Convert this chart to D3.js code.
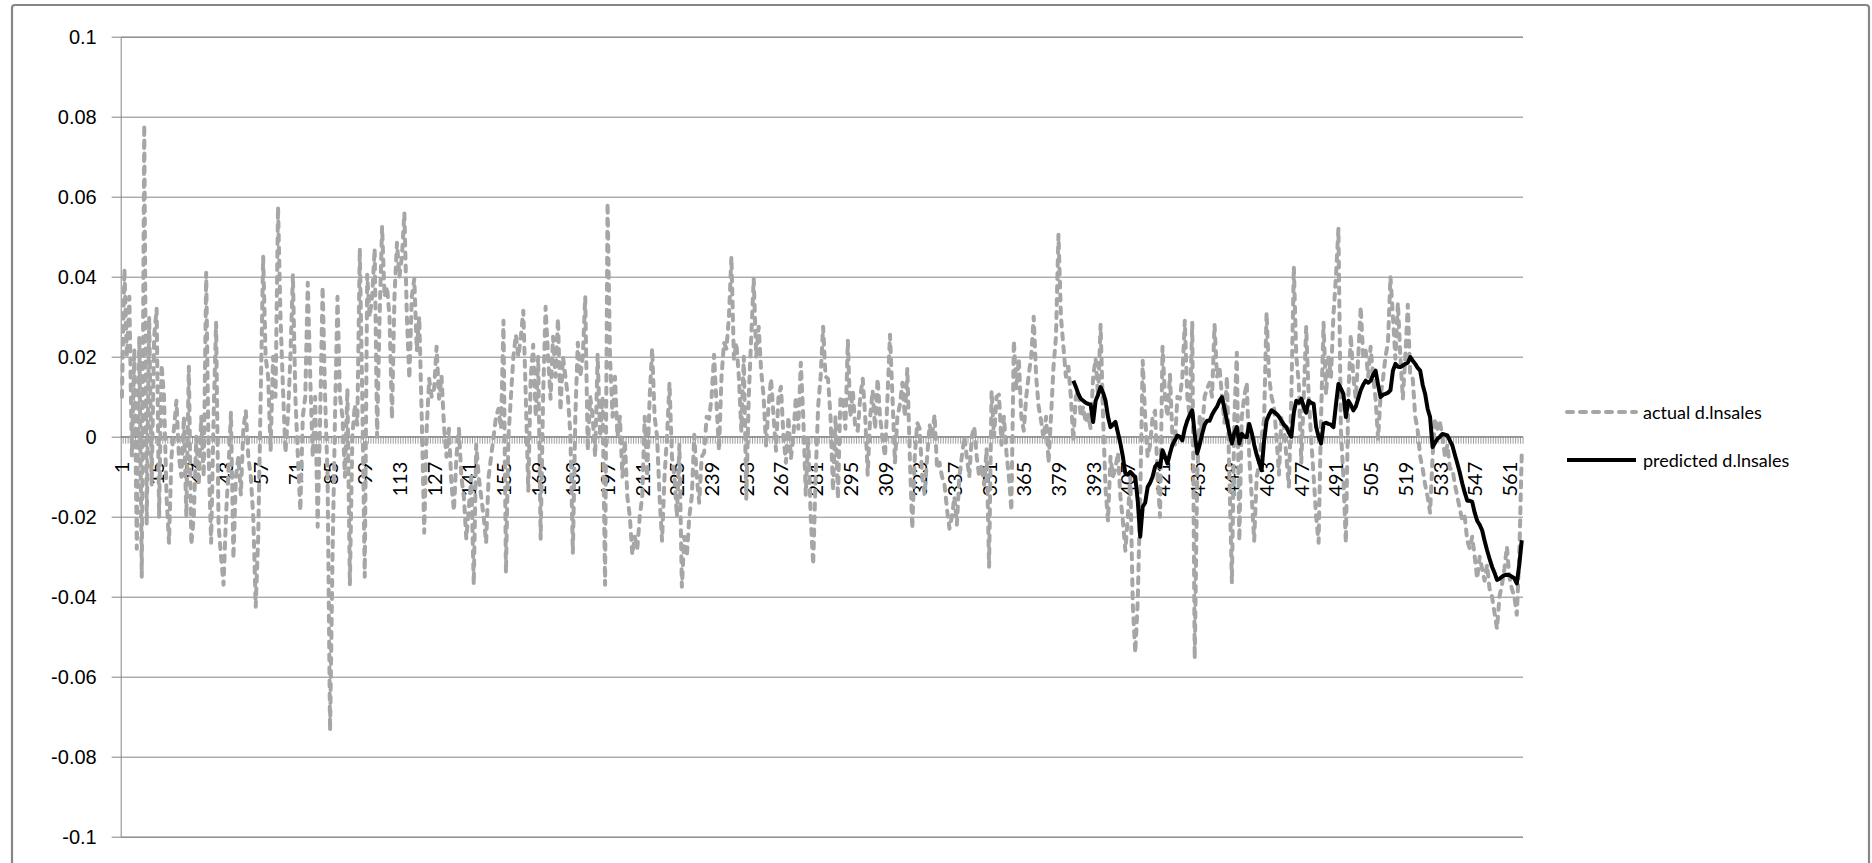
<!DOCTYPE html>
<html>
<head>
<meta charset="utf-8">
<script src="https://cdn.jsdelivr.net/npm/d3@7"></script>
<style>
  html, body { margin: 0; padding: 0; background: #fff; }
  svg { display: block; font-family: Lato, "Open Sans", sans-serif; }
</style>
</head>
<body>
<svg id="chart" width="1872" height="863"></svg>
<script>
// actual d.lnsales, one value per observation (1..566)
const actual = [
  0.010, 0.042, 0.020, 0.035, -0.005, 0.022, -0.028, 0.025, -0.035, 0.078,
  -0.022, 0.030, -0.012, 0.025, 0.032, -0.020, 0.018, 0.010, -0.015, -0.0265,
  -0.005, 0.002, 0.009, -0.005, -0.010, 0.005, -0.020, 0.0175, -0.027, -0.020,
  0.000, -0.012, 0.005, -0.010, 0.041, -0.005, -0.0265, 0.005, 0.0285, -0.022,
  -0.030, -0.037, -0.020, -0.008, 0.006, -0.0305, -0.010, -0.005, -0.0145, 0.002,
  0.0065, -0.005, -0.010, -0.020, -0.0425, -0.025, 0.010, 0.045, 0.020, 0.015,
  -0.0035, 0.020, 0.010, 0.0575, 0.030, 0.012, -0.004, 0.005, 0.020, 0.0405,
  0.010, -0.005, -0.0185, 0.005, 0.010, 0.0385, 0.015, -0.005, 0.010, -0.0225,
  0.005, 0.0375, 0.010, -0.010, -0.0735, -0.030, 0.005, 0.035, 0.010, 0.005,
  -0.010, 0.012, -0.037, 0.000, 0.008, 0.003, 0.047, 0.010, -0.035, 0.0405,
  0.030, 0.035, 0.047, 0.000, 0.030, 0.0525, 0.035, 0.0375, 0.030, 0.0045,
  0.035, 0.0485, 0.040, 0.045, 0.056, 0.030, 0.0145, 0.035, 0.0395, 0.0215,
  0.030, 0.005, -0.024, 0.002, 0.0145, 0.010, 0.012, 0.0225, 0.0095, 0.015,
  0.0025, -0.005, 0.002, -0.012, -0.0185, -0.005, 0.002, -0.010, -0.015, -0.0255,
  -0.018, -0.010, -0.037, -0.002, -0.010, -0.015, -0.020, -0.0265, -0.010, -0.005,
  0.000, 0.005, 0.007, 0.002, 0.029, -0.034, 0.000, 0.010, 0.020, 0.0255,
  0.020, 0.025, 0.0315, 0.010, -0.0135, 0.015, 0.023, 0.005, 0.020, -0.0255,
  0.010, 0.0325, 0.020, 0.0095, 0.025, 0.015, 0.0295, 0.0065, 0.020, 0.015,
  0.010, 0.0005, -0.029, 0.005, 0.0235, 0.015, 0.020, 0.035, -0.0035, 0.010,
  0.005, -0.005, 0.0205, 0.000, 0.010, -0.037, 0.0585, 0.020, 0.005, 0.015,
  0.000, 0.005, -0.010, -0.001, -0.015, -0.020, -0.0295, -0.025, -0.028, -0.020,
  -0.015, 0.005, -0.010, 0.010, 0.022, 0.005, 0.000, -0.015, -0.026, -0.010,
  0.000, 0.0135, -0.005, -0.010, -0.020, -0.002, -0.0375, -0.025, -0.030, -0.020,
  -0.015, 0.0005, -0.010, -0.0165, -0.005, -0.004, 0.005, 0.0045, 0.010, 0.0205,
  0.008, -0.0035, 0.015, 0.0235, 0.022, 0.030, 0.045, 0.0195, 0.0235, 0.015,
  0.0015, 0.020, -0.0155, 0.010, 0.025, 0.0395, 0.020, 0.0275, 0.0165, 0.010,
  -0.0025, 0.008, 0.0145, 0.005, -0.0035, 0.010, 0.0125, 0.000, -0.0065, 0.005,
  -0.0055, 0.000, 0.010, 0.002, 0.0185, 0.005, -0.0145, 0.000, -0.020, -0.032,
  -0.010, 0.0075, 0.015, 0.0275, 0.015, 0.0145, 0.005, -0.0135, 0.005, -0.0155,
  0.010, 0.0095, 0.002, 0.024, 0.005, 0.0115, 0.002, 0.0015, 0.010, 0.0145,
  0.005, -0.0095, 0.005, 0.0115, 0.002, 0.0145, 0.005, -0.0005, -0.005, 0.010,
  0.0255, 0.010, -0.0065, 0.005, 0.008, 0.0135, 0.005, 0.017, -0.005, -0.023,
  -0.005, 0.0035, 0.002, -0.010, -0.0145, -0.005, 0.003, 0.000, 0.0055, -0.008,
  -0.0065, -0.010, -0.012, -0.018, -0.023, -0.020, -0.015, -0.022, -0.010, -0.005,
  0.000, -0.005, -0.010, 0.000, 0.0025, -0.005, -0.010, -0.007, -0.012, -0.003,
  -0.0325, 0.0115, 0.000, 0.010, 0.0105, -0.002, 0.005, -0.004, -0.010, -0.0185,
  0.024, 0.012, 0.0195, 0.005, 0.0015, 0.010, 0.0155, 0.020, 0.030, 0.015,
  0.0075, 0.004, -0.0005, 0.005, -0.0065, 0.005, 0.0175, 0.025, 0.0505, 0.030,
  0.0225, 0.015, 0.0175, 0.010, -0.001, 0.010, 0.0115, 0.005, 0.0075, 0.0035,
  0.0055, 0.002, 0.015, 0.0195, 0.010, 0.028, 0.005, -0.013, -0.021, -0.005,
  -0.010, -0.008, -0.004, -0.015, -0.021, -0.0285, -0.020, -0.010, -0.042, -0.054,
  -0.041, -0.015, 0.019, 0.005, -0.005, -0.002, 0.005, 0.0065, -0.010, -0.020,
  0.0225, 0.010, 0.005, 0.0155, 0.000, -0.002, 0.010, 0.0095, 0.015, 0.029,
  0.010, 0.005, 0.0285, -0.0555, -0.010, 0.005, 0.0015, 0.010, 0.012, 0.0135,
  0.010, 0.028, 0.015, 0.0175, 0.010, 0.0035, 0.015, -0.010, -0.0365, 0.005,
  0.021, -0.026, 0.005, 0.010, 0.0135, -0.005, -0.015, -0.026, -0.010, -0.007,
  0.000, 0.0045, 0.031, 0.015, 0.010, 0.0075, 0.000, -0.0095, 0.005, 0.0025,
  -0.005, -0.0125, 0.010, 0.0425, 0.020, 0.0135, -0.0065, 0.010, 0.0275, 0.010,
  -0.0005, -0.010, -0.020, -0.0265, 0.005, 0.0285, 0.0105, 0.020, 0.015, 0.0305,
  0.040, 0.052, 0.0015, -0.010, -0.0265, 0.010, 0.0255, 0.015, 0.0095, 0.020,
  0.0325, 0.020, 0.0215, 0.015, 0.0225, 0.015, 0.0095, -0.0005, 0.010, 0.0145,
  0.020, 0.0235, 0.040, 0.030, 0.0195, 0.0335, 0.020, 0.0095, 0.020, 0.033,
  0.015, 0.0145, 0.005, 0.0015, -0.005, -0.008, -0.012, -0.015, -0.019, -0.005,
  0.0045, 0.002, 0.0035, 0.000, -0.005, -0.002, -0.008, -0.008, -0.012, -0.015,
  -0.018, -0.021, -0.020, -0.026, -0.028, -0.025, -0.030, -0.0355, -0.030, -0.033,
  -0.036, -0.032, -0.038, -0.040, -0.044, -0.048, -0.040, -0.037, -0.033, -0.0275,
  -0.035, -0.038, -0.040, -0.0445, -0.030, -0.004
];

// predicted d.lnsales starts at observation 385 and runs to the end
const predictedStart = 385;
const predicted = [
  0.014, 0.0125, 0.0107, 0.0095, 0.009, 0.0085, 0.0082, 0.008, 0.0037, 0.009,
  0.0105, 0.0124, 0.011, 0.009, 0.005, 0.0024, 0.003, 0.0037, 0.001, -0.0017,
  -0.005, -0.0092, -0.0095, -0.0088, -0.0095, -0.010, -0.016, -0.025, -0.0175, -0.0165,
  -0.0126, -0.0115, -0.010, -0.0075, -0.0067, -0.0076, -0.0034, -0.005, -0.0067, -0.0042,
  -0.002, -0.0009, 0.0003, 0.000, -0.0009, 0.002, 0.004, 0.0055, 0.0066, 0.0007,
  -0.0042, -0.002, 0.0007, 0.003, 0.004, 0.004, 0.0055, 0.0066, 0.0075, 0.009,
  0.0099, 0.007, 0.004, 0.001, -0.0017, 0.001, 0.0024, -0.0017, 0.0007, 0.000,
  -0.0001, 0.0032, 0.001, -0.002, -0.0045, -0.0065, -0.0084, -0.001, 0.004, 0.0055,
  0.0066, 0.0062, 0.0057, 0.005, 0.004, 0.003, 0.0024, 0.001, 0.000, 0.006,
  0.009, 0.0085, 0.0095, 0.0075, 0.006, 0.009, 0.0085, 0.0082, 0.0024, 0.000,
  -0.0017, 0.0032, 0.0035, 0.0032, 0.003, 0.0024, 0.008, 0.0132, 0.012, 0.0107,
  0.0049, 0.009, 0.008, 0.0066, 0.0075, 0.0095, 0.0116, 0.013, 0.014, 0.0135,
  0.014, 0.0155, 0.0165, 0.013, 0.0099, 0.0105, 0.0107, 0.011, 0.0116, 0.0165,
  0.0182, 0.0175, 0.0174, 0.0178, 0.0182, 0.0185, 0.0199, 0.019, 0.0182, 0.0172,
  0.0165, 0.013, 0.0107, 0.007, 0.0049, -0.0026, -0.0015, -0.0005, 0.000, 0.0007,
  0.0005, 0.0003, -0.001, -0.0022, -0.0045, -0.0067, -0.009, -0.0117, -0.014, -0.016,
  -0.016, -0.0163, -0.019, -0.021, -0.022, -0.0234, -0.026, -0.0284, -0.0305, -0.0325,
  -0.034, -0.0358, -0.0355, -0.035, -0.0346, -0.0345, -0.0346, -0.035, -0.0354, -0.0367,
  -0.032, -0.0259
];

const yTicks = [-0.1, -0.08, -0.06, -0.04, -0.02, 0, 0.02, 0.04, 0.06, 0.08, 0.1];
const yTickLabels = ['-0.1', '-0.08', '-0.06', '-0.04', '-0.02', '0', '0.02', '0.04', '0.06', '0.08', '0.1'];
const xLabelStep = 14;   // every 14th observation is labelled: 1, 15, 29 ...
const seriesNames = ['actual d.lnsales', 'predicted d.lnsales'];

const svg = d3.select('#chart');
const plot = { left: 120.7, right: 1523, top: 36.7, bottom: 836.7 };
const axisGrey = '#868686';
const actualGrey = '#a6a6a6';
const tickFont = '20px';
const legendFont = '18px';

const categories = d3.range(1, actual.length + 1);
const x = d3.scaleBand().domain(categories).range([plot.left, plot.right]);
const cx = c => x(c) + x.bandwidth() / 2;
const y = d3.scaleLinear().domain([-0.1, 0.1]).range([plot.bottom, plot.top]);

// chart area border
svg.append('rect')
    .attr('x', 12).attr('y', 5)
    .attr('width', 1857).attr('height', 870)
    .attr('rx', 3)
    .attr('fill', '#fff')
    .attr('stroke', axisGrey)
    .attr('stroke-width', 2.2);

// horizontal gridlines, with the tick marks sticking out to the left
const yAxis = d3.axisLeft(y)
    .tickValues(yTicks)
    .tickSize(-(plot.right - plot.left))
    .tickFormat((d, i) => yTickLabels[i]);

const gy = svg.append('g')
    .attr('transform', `translate(${plot.left},0)`)
    .call(yAxis);
gy.select('.domain').attr('stroke', axisGrey);
gy.selectAll('.tick line')
    .attr('x1', -9)
    .attr('stroke', axisGrey);
gy.selectAll('.tick text')
    .attr('x', -24)
    .attr('fill', '#000')
    .attr('font-size', tickFont);

// category axis along y = 0, one tick mark per observation
const x0 = y(0);
svg.append('line')
    .attr('x1', plot.left).attr('x2', plot.right)
    .attr('y1', x0).attr('y2', x0)
    .attr('stroke', axisGrey);

svg.append('g')
    .selectAll('line')
    .data(categories)
    .join('line')
    .attr('x1', c => x(c) + x.bandwidth()).attr('x2', c => x(c) + x.bandwidth())
    .attr('y1', x0).attr('y2', x0 + 7)
    .attr('stroke', axisGrey)
    .attr('stroke-width', 0.8);

svg.append('g')
    .selectAll('text')
    .data(categories.filter(c => (c - 1) % xLabelStep === 0))
    .join('text')
    .attr('transform', c => `translate(${cx(c) + 7.5},${x0 + 25}) rotate(-90)`)
    .attr('text-anchor', 'end')
    .attr('font-size', tickFont)
    .attr('fill', '#000')
    .text(c => c);

// series, drawn over the category labels as in the original
const line = d3.line()
    .defined(d => d.v != null)
    .x(d => cx(d.c))
    .y(d => y(d.v));

const actualPts = actual.map((v, i) => ({ c: i + 1, v }));
const predictedPts = predicted.map((v, i) => ({ c: predictedStart + i, v }));

svg.append('path')
    .datum(actualPts)
    .attr('d', line)
    .attr('fill', 'none')
    .attr('stroke', actualGrey)
    .attr('stroke-width', 4)
    .attr('stroke-linecap', 'round')
    .attr('stroke-linejoin', 'round')
    .attr('stroke-dasharray', '6,7');

svg.append('path')
    .datum(predictedPts)
    .attr('d', line)
    .attr('fill', 'none')
    .attr('stroke', '#000')
    .attr('stroke-width', 4)
    .attr('stroke-linejoin', 'round');

// legend
const legend = svg.append('g');
const legendRows = [
    { name: seriesNames[0], y: 412, color: actualGrey, dash: '6,7', cap: 'round' },
    { name: seriesNames[1], y: 460, color: '#000', dash: null, cap: 'butt' }
];
legendRows.forEach(row => {
    legend.append('line')
        .attr('x1', 1567).attr('x2', 1636)
        .attr('y1', row.y).attr('y2', row.y)
        .attr('stroke', row.color)
        .attr('stroke-width', 4)
        .attr('stroke-linecap', row.cap)
        .attr('stroke-dasharray', row.dash);
    legend.append('text')
        .attr('x', 1643)
        .attr('y', row.y + 6.5)
        .attr('font-size', legendFont)
        .attr('fill', '#000')
        .text(row.name);
});
</script>
</body>
</html>
